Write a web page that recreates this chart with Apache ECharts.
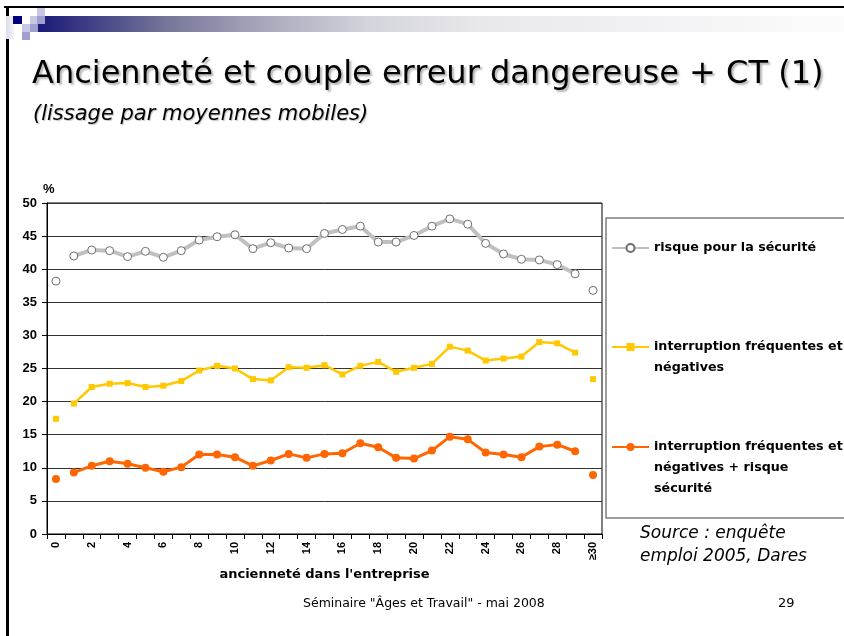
<!DOCTYPE html>
<html>
<head>
<meta charset="utf-8">
<script src="https://cdn.jsdelivr.net/npm/echarts/dist/echarts.min.js"></script>
<style>
  html, body { margin: 0; padding: 0; background: #fff; }
  #main { width: 844px; height: 636px; }
</style>
</head>
<body>
<div id="main"></div>
<script>
// ancienneté 0 .. 29, puis >=30
var categories = ['0', '1', '2', '3', '4', '5', '6', '7', '8', '9', '10', '11', '12', '13', '14',
    '15', '16', '17', '18', '19', '20', '21', '22', '23', '24', '25', '26', '27', '28', '29', '≥30'];

var risque = [38.2, 42.0, 42.9, 42.8, 41.9, 42.7, 41.8, 42.8, 44.4, 44.9, 45.2, 43.1, 44.0, 43.2, 43.1,
    45.4, 46.0, 46.5, 44.1, 44.1, 45.1, 46.5, 47.6, 46.8, 43.9, 42.3, 41.5, 41.4, 40.7, 39.3, 36.8];

var interruption = [17.4, 19.7, 22.2, 22.7, 22.8, 22.2, 22.4, 23.1, 24.7, 25.4, 25.0, 23.4, 23.2, 25.2, 25.1,
    25.5, 24.1, 25.4, 26.0, 24.5, 25.1, 25.7, 28.3, 27.7, 26.2, 26.5, 26.8, 29.0, 28.8, 27.4, 23.4];

var interruptionRisque = [8.3, 9.3, 10.3, 11.0, 10.6, 10.0, 9.4, 10.1, 12.0, 12.0, 11.6, 10.3, 11.1, 12.1, 11.5,
    12.1, 12.2, 13.7, 13.1, 11.5, 11.4, 12.6, 14.7, 14.3, 12.3, 12.0, 11.6, 13.2, 13.5, 12.5, 8.9];

var names = ['risque pour la sécurité', 'interruption fréquentes et négatives',
    'interruption fréquentes et négatives + risque sécurité'];

// la ligne ne relie que 1..29, les points 0 et >=30 sont isolés
function inner(arr) {
    return arr.map(function (v, i) { return (i === 0 || i === arr.length - 1) ? null : v; });
}
function ends(arr) {
    return arr.map(function (v, i) { return (i === 0 || i === arr.length - 1) ? v : null; });
}

(function () {
    var myChart = echarts.init(document.getElementById('main'));

    var comic = 'DejaVu Sans';
    var arial = 'Liberation Sans';

    var legendBase = {
        left: 611,
        orient: 'vertical',
        padding: 0,
        itemWidth: 37,
        itemHeight: 10,
        itemGap: 5,
        textStyle: {
            color: '#000',
            fontFamily: comic,
            fontWeight: 'bold',
            fontSize: 12.7,
            lineHeight: 21
        }
    };

    var option = {
        backgroundColor: '#fff',
        animation: false,
        title: [
            {
                text: 'Ancienneté et couple erreur dangereuse + CT (1)',
                left: 32,
                top: 59,
                padding: 0,
                textStyle: {
                    color: '#000',
                    fontFamily: comic,
                    fontWeight: 'normal',
                    fontSize: 32,
                    textShadowColor: 'rgba(0,0,0,0.3)',
                    textShadowOffsetX: 2,
                    textShadowOffsetY: 2,
                    textShadowBlur: 2
                }
            },
            {
                text: '(lissage par moyennes mobiles)',
                left: 33,
                top: 104,
                padding: 0,
                textStyle: {
                    color: '#000',
                    fontFamily: comic,
                    fontStyle: 'italic',
                    fontWeight: 'normal',
                    fontSize: 21,
                    textShadowColor: 'rgba(0,0,0,0.25)',
                    textShadowOffsetX: 1,
                    textShadowOffsetY: 1,
                    textShadowBlur: 1
                }
            },
            {
                text: 'Source : enquête\nemploi 2005, Dares',
                left: 640,
                top: 522,
                padding: 0,
                textStyle: {
                    color: '#000',
                    fontFamily: comic,
                    fontStyle: 'italic',
                    fontWeight: 'normal',
                    fontSize: 17,
                    lineHeight: 23
                }
            },
            {
                text: 'Séminaire "Âges et Travail" - mai 2008',
                left: 303,
                top: 597,
                padding: 0,
                textStyle: {
                    color: '#000',
                    fontFamily: comic,
                    fontWeight: 'normal',
                    fontSize: 12.5
                }
            },
            {
                text: '29',
                left: 778,
                top: 597,
                padding: 0,
                textStyle: {
                    color: '#000',
                    fontFamily: comic,
                    fontWeight: 'normal',
                    fontSize: 13
                }
            }
        ],
        graphic: [
            // cadre de la diapositive
            { type: 'rect', shape: { x: 4, y: 6, width: 840, height: 2 }, style: { fill: '#000' }, silent: true },
            { type: 'rect', shape: { x: 6, y: 6, width: 3, height: 630 }, style: { fill: '#000' }, silent: true },
            // bandeau dégradé
            {
                type: 'rect',
                shape: { x: 38, y: 16, width: 806, height: 16 },
                style: {
                    fill: new echarts.graphic.LinearGradient(0, 0, 1, 0, [
                        { offset: 0, color: '#1a1a78' },
                        { offset: 0.16, color: '#76769a' },
                        { offset: 0.28, color: '#a8a8bc' },
                        { offset: 0.41, color: '#d4d4dc' },
                        { offset: 0.55, color: '#e8e8ec' },
                        { offset: 1, color: '#fcfcfc' }
                    ])
                },
                silent: true
            },
            {
                type: 'rect',
                shape: { x: 6, y: 16, width: 8, height: 23 },
                style: {
                    fill: new echarts.graphic.LinearGradient(0, 0, 1, 0, [
                        { offset: 0, color: '#dcdcec' },
                        { offset: 1, color: '#f4f4f8' }
                    ])
                },
                silent: true
            },
            { type: 'rect', shape: { x: 13, y: 16, width: 9, height: 8 }, style: { fill: '#000080' }, silent: true },
            { type: 'rect', shape: { x: 22, y: 24, width: 8, height: 8 }, style: { fill: '#c8c8e4' }, silent: true },
            { type: 'rect', shape: { x: 22, y: 32, width: 8, height: 8 }, style: { fill: '#a0a0d0' }, silent: true },
            { type: 'rect', shape: { x: 30, y: 16, width: 8, height: 8 }, style: { fill: '#c8c8e4' }, silent: true },
            { type: 'rect', shape: { x: 30, y: 24, width: 8, height: 8 }, style: { fill: '#a0a0d0' }, silent: true },
            { type: 'rect', shape: { x: 37, y: 8, width: 8, height: 8 }, style: { fill: '#c8c8e4' }, silent: true },
            { type: 'rect', shape: { x: 37, y: 16, width: 8, height: 8 }, style: { fill: '#a0a0d0' }, silent: true },
            // cadre de la légende
            {
                type: 'rect',
                shape: { x: 606, y: 218, width: 250, height: 300 },
                style: { fill: 'none', stroke: '#7f7f7f', lineWidth: 1.5 },
                silent: true
            }
        ],
        // lignes vides en tête : la première ligne du texte reste au niveau du symbole
        legend: [
            Object.assign({}, legendBase, {
                top: 237.5,
                data: [names[0]]
            }),
            Object.assign({}, legendBase, {
                top: 315.5,
                data: [names[1]],
                formatter: function () { return ' \ninterruption fréquentes et\nnégatives'; }
            }),
            Object.assign({}, legendBase, {
                top: 394.5,
                data: [names[2]],
                formatter: function () { return ' \n \ninterruption fréquentes et\nnégatives + risque\nsécurité'; }
            })
        ],
        grid: {
            left: 47,
            right: 242,
            top: 203,
            bottom: 102,
            show: true,
            borderColor: '#000',
            borderWidth: 1,
            containLabel: false
        },
        xAxis: {
            type: 'category',
            data: categories,
            boundaryGap: true,
            name: "ancienneté dans l'entreprise",
            nameLocation: 'middle',
            nameGap: 28,
            nameTextStyle: {
                color: '#000',
                fontFamily: comic,
                fontWeight: 'bold',
                fontSize: 13
            },
            axisLine: { lineStyle: { color: '#000', width: 1 } },
            axisTick: { show: true, interval: 0, length: 5, lineStyle: { color: '#000' } },
            axisLabel: {
                interval: 1,
                rotate: 90,
                margin: 8,
                color: '#000',
                fontFamily: arial,
                fontWeight: 'bold',
                fontSize: 11
            }
        },
        yAxis: {
            type: 'value',
            min: 0,
            max: 50,
            interval: 5,
            name: '%',
            nameLocation: 'end',
            nameGap: 7,
            nameTextStyle: {
                color: '#000',
                fontFamily: arial,
                fontWeight: 'bold',
                fontSize: 13,
                align: 'left',
                padding: [0, 0, 0, -4]
            },
            axisLine: { show: true, lineStyle: { color: '#000', width: 1 } },
            axisTick: { show: true, length: 5, lineStyle: { color: '#000' } },
            axisLabel: {
                margin: 10,
                color: '#000',
                fontFamily: arial,
                fontWeight: 'bold',
                fontSize: 13
            },
            splitLine: { show: true, lineStyle: { color: '#333', width: 1 } }
        },
        series: [
            {
                name: names[0],
                type: 'line',
                data: inner(risque),
                symbol: 'circle',
                symbolSize: 8,
                lineStyle: { color: '#c0c0c0', width: 4 },
                itemStyle: { color: '#fff', borderColor: '#6e6e6e', borderWidth: 1 },
                z: 3
            },
            {
                name: names[0],
                type: 'line',
                data: ends(risque),
                symbol: 'circle',
                symbolSize: 8,
                lineStyle: { width: 0 },
                itemStyle: { color: '#fff', borderColor: '#6e6e6e', borderWidth: 1 },
                z: 3
            },
            {
                name: names[1],
                type: 'line',
                data: inner(interruption),
                symbol: 'rect',
                symbolSize: 6,
                lineStyle: { color: '#ffc800', width: 2.5 },
                itemStyle: { color: '#ffc800' },
                z: 3
            },
            {
                name: names[1],
                type: 'line',
                data: ends(interruption),
                symbol: 'rect',
                symbolSize: 6,
                lineStyle: { width: 0 },
                itemStyle: { color: '#ffc800' },
                z: 3
            },
            {
                name: names[2],
                type: 'line',
                data: inner(interruptionRisque),
                symbol: 'circle',
                symbolSize: 8,
                lineStyle: { color: '#ff6600', width: 3 },
                itemStyle: { color: '#ff6600' },
                z: 3
            },
            {
                name: names[2],
                type: 'line',
                data: ends(interruptionRisque),
                symbol: 'circle',
                symbolSize: 8,
                lineStyle: { width: 0 },
                itemStyle: { color: '#ff6600' },
                z: 3
            }
        ]
    };

    myChart.setOption(option);

    window.addEventListener('resize', function () {
        myChart.resize();
    });
})();
</script>
</body>
</html>
